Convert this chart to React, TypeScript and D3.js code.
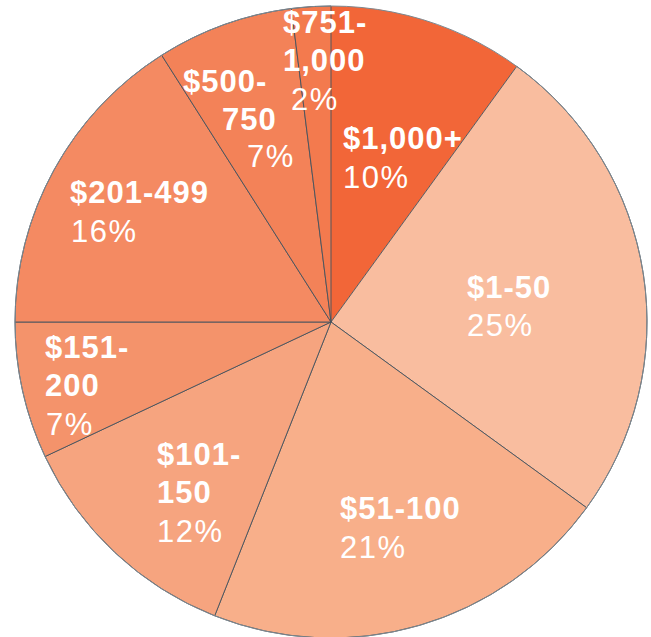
import React from "react";
import * as d3 from "d3";

const categories = ["$1,000+", "$1-50", "$51-100", "$101-150", "$151-200", "$201-499", "$500-750", "$751-1,000"];
const shares = [10, 25, 21, 12, 7, 16, 7, 2];
const colors = ["#F26638", "#F9BD9F", "#F8AF8A", "#F6A47F", "#F4936B", "#F48A62", "#F38258", "#F37A4E"];
// label lines (bold name lines, then percentage) per slice
const labelLines = [
  ["$1,000+"],
  ["$1-50"],
  ["$51-100"],
  ["$101-", "150"],
  ["$151-", "200"],
  ["$201-499"],
  ["$500-", "750"],
  ["$751-", "1,000"],
];
// manual label layout: [x, baseline] per line incl. percent
const labelLayout = [
  [[343, 149], [343, 188]],
  [[467, 298], [467, 336]],
  [[340, 519], [340, 558]],
  [[157, 465], [157, 503], [157, 542]],
  [[45, 358], [45, 396], [46, 435]],
  [[70, 203], [71, 242]],
  [[183, 92], [222, 130], [247, 167]],
  [[283, 33], [283, 71], [291, 110]],
];

export default function App() {
  const width = 651;
  const height = 637;
  const cx = 331;
  const cy = 322;
  const r = 316;
  const pie = d3.pie<number>().sort(null).value((d) => d);
  const arcs = pie(shares);
  const arc = d3.arc<d3.PieArcDatum<number>>().innerRadius(0).outerRadius(r);
  return (
    <svg width={width} height={height} style={{ position: "absolute", left: 0, top: 0 }}>
      <g transform={`translate(${cx},${cy})`}>
        {arcs.map((a, i) => (
          <path key={i} d={arc(a) || ""} fill={colors[i]} stroke={i === 0 ? "none" : "#44525e"} strokeWidth={0.9} />
        ))}
        <circle r={r} fill="none" stroke="#7d8890" strokeWidth={1} />
      </g>
      <g fontFamily="'Liberation Sans', Arial, Helvetica, sans-serif" fill="#ffffff" fontSize={31}>
        {labelLines.map((lines, i) => {
          const pos = labelLayout[i];
          return (
            <g key={i}>
              {lines.map((t, j) => (
                <text key={j} x={pos[j][0]} y={pos[j][1]} fontWeight="bold" letterSpacing={1}>
                  {t}
                </text>
              ))}
              <text x={pos[lines.length][0]} y={pos[lines.length][1]} letterSpacing={1.5}>
                {shares[i]}%
              </text>
            </g>
          );
        })}
      </g>
    </svg>
  );
}
